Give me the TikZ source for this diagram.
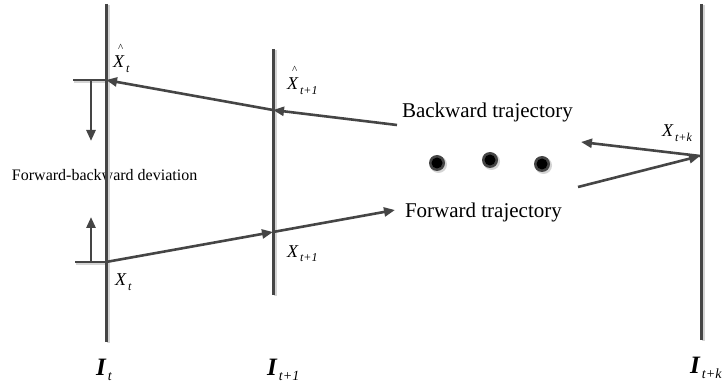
\documentclass[tikz,border=0pt]{standalone}
\usepackage{fontspec}
\setmainfont{Liberation Serif}
\usetikzlibrary{arrows.meta}
\definecolor{ink}{HTML}{454545}
\definecolor{shade}{HTML}{D4D4D4}
\newcommand{\Xsub}[1]{\textit{X}\kern1.5pt\raisebox{-5pt}{\fontsize{12}{12}\selectfont\textit{#1}}}
\newcommand{\Xhatsub}[1]{\rlap{\kern5pt\raisebox{16pt}{\fontsize{11}{11}\selectfont\textasciicircum}}\Xsub{#1}}
\newcommand{\Isub}[1]{\textbf{\textit{I}}\kern1.5pt\raisebox{-5pt}{\fontsize{14}{14}\selectfont\textit{#1}}}
\tikzset{
  frameline/.style={draw=ink, line width=3pt},
  frameshade/.style={draw=shade, line width=3pt},
  traj/.style={draw=ink, line width=2.6pt},
  trajarrow/.style={traj, -{Triangle[length=11pt,width=9pt]}},
  lab/.style={anchor=base west, inner sep=0pt, outer sep=0pt},
  xl/.style={lab, font=\fontsize{18}{18}\selectfont},
  il/.style={lab, font=\fontsize{25}{25}\selectfont},
  bigtext/.style={lab, font=\fontsize{21}{24}\selectfont},
  smalltext/.style={lab, font=\fontsize{16}{18}\selectfont},
  dotring/.style={fill=ink},
  dotcore/.style={fill=black},
  dotshade/.style={fill=shade}
}
\begin{document}
\begin{tikzpicture}[x=1pt,y=-1pt]
\useasboundingbox (0,0) rectangle (722,387);
% coordinates
\coordinate (Ltop) at (106,4);
\coordinate (Lbot) at (106,342);
\coordinate (Mtop) at (273,49);
\coordinate (Mbot) at (273,295);
\coordinate (Rtop) at (701,4);
\coordinate (Rbot) at (701,340);
\coordinate (LhatP) at (106,80);
\coordinate (LhatS) at (73,80);
\coordinate (LP) at (106,262);
\coordinate (LS) at (75,262);
\coordinate (DnA) at (91,80);
\coordinate (DnB) at (91,141);
\coordinate (UpA) at (91,262);
\coordinate (UpB) at (91,217);
\coordinate (MhatP) at (273,110);
\coordinate (MP) at (273,232);
\coordinate (BackS) at (397,125);
\coordinate (ForE) at (395,210);
\coordinate (RP) at (700,156);
\coordinate (RUp) at (581,142);
\coordinate (RLo) at (578,187);
% texts
\node[smalltext] (dev) at (12,181) {Forward-backward deviation};
\node[bigtext] (bt) at (402,118) {Backward trajectory};
\node[bigtext] (ft) at (405,218) {Forward trajectory};
% frame lines with shade
\draw[frameshade] ([shift={(2.5,1)}]Ltop) -- ([shift={(2.5,1)}]Lbot);
\draw[frameshade] ([shift={(2.5,1)}]Mtop) -- ([shift={(2.5,1)}]Mbot);
\draw[frameshade] ([shift={(2.5,1)}]Rtop) -- ([shift={(2.5,1)}]Rbot);
\draw[frameshade, line width=2.4pt] ([shift={(1,2)}]LhatS) -- ([shift={(1,2)}]LhatP);
\draw[frameshade, line width=2.4pt] ([shift={(1,2)}]LS) -- ([shift={(1,2)}]LP);
\draw[frameline] (Ltop) -- (Lbot);
\draw[frameline] (Mtop) -- (Mbot);
\draw[frameline] (Rtop) -- (Rbot);
\draw[traj] (LhatS) -- (LhatP);
\draw[traj] (LS) -- (LP);
% deviation arrows
\draw[trajarrow] (DnA) -- (DnB);
\draw[trajarrow] (UpA) -- (UpB);
% trajectories
\draw[trajarrow] (MhatP) -- (LhatP);
\draw[trajarrow] (BackS) -- (MhatP);
\draw[trajarrow] (LP) -- (MP);
\draw[trajarrow] (MP) -- (ForE);
\draw[trajarrow] (RP) -- (RUp);
\draw[trajarrow] (RLo) -- (RP);
% dots
\foreach \n/\px/\py in {d1/437/163, d2/490/160, d3/542/164}{
  \fill[dotshade] (\px+1.5,\py+1.5) circle (8.5);
  \fill[dotring] (\px,\py) circle (8);
  \fill[dotcore] (\px,\py) circle (5.5);
  \coordinate (\n) at (\px,\py);
}
% labels
\node[xl] (xht) at (113,68) {\Xhatsub{t}};
\node[xl] (xht1) at (287,90) {\Xhatsub{t+1}};
\node[xl] (xt) at (115,285) {\Xsub{t}};
\node[xl] (xt1) at (287,257) {\Xsub{t+1}};
\node[xl] (xtk) at (662,137) {\Xsub{t+k}};
\node[il] (it) at (96,375) {\Isub{t}};
\node[il] (it1) at (267,375) {\Isub{t+1}};
\node[il] (itk) at (690,373) {\Isub{t+k}};
\end{tikzpicture}
\end{document}
